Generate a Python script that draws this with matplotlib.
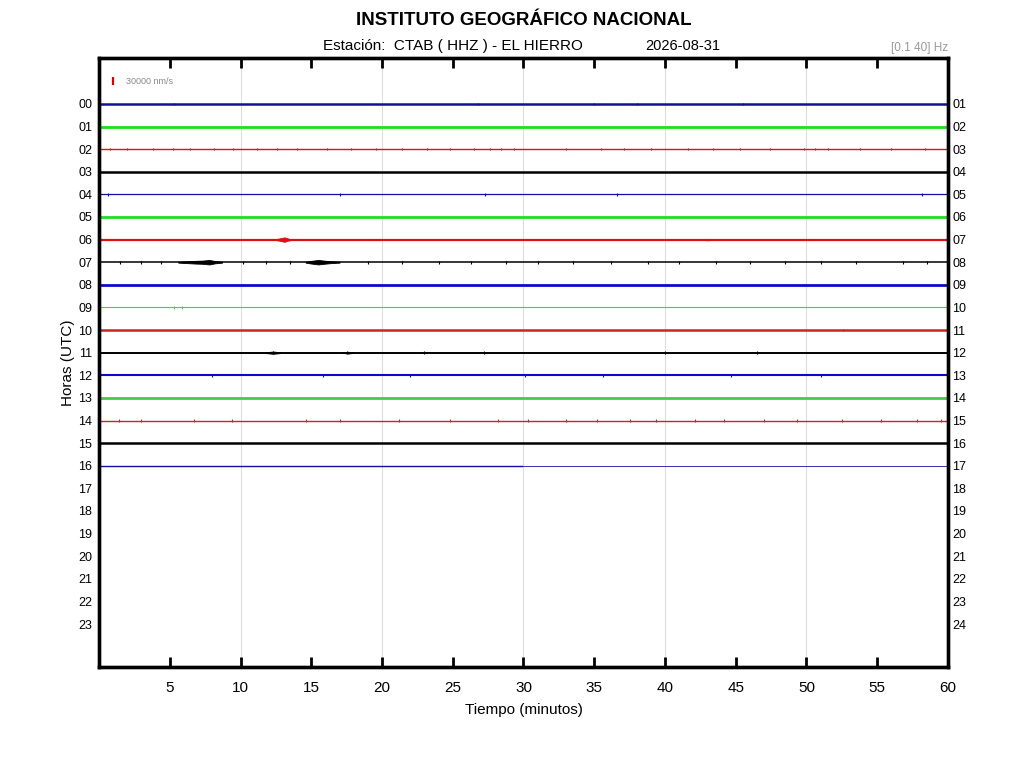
"""
plot.py: helicorder (24 h seismogram) for station CTAB, one trace per hour
"""

import matplotlib
matplotlib.use("Agg")
import matplotlib.pyplot as plt

plt.rcParams['font.family'] = ['Liberation Sans', 'DejaVu Sans']

# hour rows that have a trace, and how the trace looks
hours = list(range(17))
trace_colors = ['#10109a', '#22dd22', '#dd1111', '#000000',
                '#1010a0', '#22dd22', '#dd1111', '#000000',
                '#0a0acc', '#33dd33', '#cc2222', '#000000',
                '#0a0acc', '#44cc44', '#cc2222', '#000000',
                '#1010a0']
trace_widths = [1.8, 2.0, 1.0, 1.8, 0.9, 2.0, 1.6, 1.1,
                2.0, 0.8, 1.8, 1.4, 1.5, 2.0, 1.0, 1.8, 1.0]
trace_end = [60] * 16 + [30]      # minutes of data recorded in each hour

spikes = {
    2: [0.8, 2.0, 3.8, 5.2, 6.4, 8.1, 9.5, 11.2, 12.6, 14.0, 16.1, 17.8,
        19.6, 21.4, 23.2, 24.8, 26.5, 27.6, 28.4, 29.3, 33.0, 35.5, 37.1,
        39.0, 41.6, 43.4, 45.3, 47.4, 49.8, 50.6, 51.5, 53.8, 56.0, 58.4],
    7: [1.5, 3.0, 4.4, 10.2, 11.8, 13.5, 19.0, 21.4, 24.0, 26.3, 28.8,
        31.0, 33.5, 36.2, 38.8, 41.0, 43.6, 46.0, 48.5, 51.0, 53.5, 56.8, 58.5],
    11: [12.3, 17.5, 23.0, 27.2, 40.0, 46.5],
    12: [8.0, 15.8, 22.0, 30.1, 35.6, 44.7, 51.0],
    14: [1.4, 3.0, 6.7, 9.4, 14.6, 17.0, 21.2, 24.8, 28.2, 30.3, 33.0,
         35.2, 37.5, 39.4, 42.1, 44.2, 47.0, 49.3, 52.5, 55.3, 57.8, 59.5],
    4: [0.6, 17.0, 27.3, 36.6, 58.2],
    9: [5.3, 5.9],
    10: [52.6],
    0: [5.3, 26.8, 35.0, 38.0, 45.5],
}
spike_height = 0.06

# event envelopes: (hour, minutes, half amplitude in hour units)
events = [
    (6, [12.5, 12.9, 13.1, 13.4, 13.6], [0.02, 0.07, 0.10, 0.04, 0.02]),
    (6, [42.5, 43.0, 43.5], [0.01, 0.03, 0.01]),
    (7, [5.6, 6.2, 6.8, 7.3, 7.8, 8.2, 8.7], [0.02, 0.04, 0.06, 0.07, 0.10, 0.05, 0.02]),
    (7, [14.6, 15.0, 15.5, 15.9, 16.4, 17.0], [0.02, 0.06, 0.10, 0.07, 0.04, 0.02]),
    (11, [11.8, 12.3, 12.8], [0.02, 0.05, 0.02]),
    (11, [17.2, 17.6, 18.0], [0.01, 0.04, 0.01]),
]

x_ticks = list(range(5, 61, 5))
left_labels = ['%02d' % h for h in range(24)]
right_labels = ['%02d' % (h + 1) for h in range(24)]

fig = plt.figure(figsize=(10.24, 7.68), dpi=100)
ax = fig.add_axes([0.0967, 0.1315, 0.829, 0.793])

# grid every 10 minutes
for m in range(10, 60, 10):
    ax.axvline(m, color='#dddddd', lw=0.8, zorder=0)

for h in hours:
    ax.hlines(h, 0, trace_end[h], color=trace_colors[h], lw=trace_widths[h], zorder=2)
    if trace_end[h] < 60:
        ax.hlines(h, trace_end[h], 60, color=trace_colors[h], lw=0.6, zorder=2)
    if h in spikes:
        ax.vlines(spikes[h], h - spike_height, h + spike_height,
                  color=trace_colors[h], lw=0.8, zorder=3)

for h, mins, amps in events:
    lo = [h - a for a in amps]
    hi = [h + a for a in amps]
    ax.fill_between(mins, lo, hi, color=trace_colors[h], lw=0.6, zorder=3)

# amplitude scale bar
ax.vlines(1.0, -1.17, -0.83, color='#dd0000', lw=1.6)
ax.text(1.9, -1.0, '30000 nm/s', fontsize=6.5, color='#888888', va='center')

ax.set_xlim(0, 60)
ax.set_ylim(24.9, -2.03)
ax.set_xticks(x_ticks)
ax.set_xticklabels([str(t) for t in x_ticks], fontsize=11)
ax.tick_params(axis='x', direction='in', length=7, width=2, top=True, pad=10)
ax.set_yticks(range(24))
ax.set_yticklabels(left_labels, fontsize=9)
ax.tick_params(axis='y', length=0, pad=5)

ax_r = ax.twinx()
ax_r.set_ylim(24.9, -2.03)
ax_r.set_yticks(range(24))
ax_r.set_yticklabels(right_labels, fontsize=9)
ax_r.tick_params(axis='y', length=0, pad=3)

for a in (ax, ax_r):
    for s in a.spines.values():
        s.set_linewidth(2.4)

ax.set_xlabel('Tiempo (minutos)', fontsize=11, labelpad=6)
ax.set_ylabel('Horas (UTC)', fontsize=11, labelpad=2)

fig.text(0.512, 0.973, 'INSTITUTO GEOGRÁFICO NACIONAL', ha='center', va='center',
         fontsize=13.5, fontweight='bold')
fig.text(0.442, 0.94, 'Estación:  CTAB ( HHZ ) - EL HIERRO', ha='center', va='center',
         fontsize=11)
fig.text(0.667, 0.94, '2026-08-31', ha='center', va='center', fontsize=10.5)
fig.text(0.926, 0.937, '[0.1 40] Hz', ha='right', va='center', fontsize=8.5,
         color='#999999')

fig.savefig('out.png', dpi=100)
